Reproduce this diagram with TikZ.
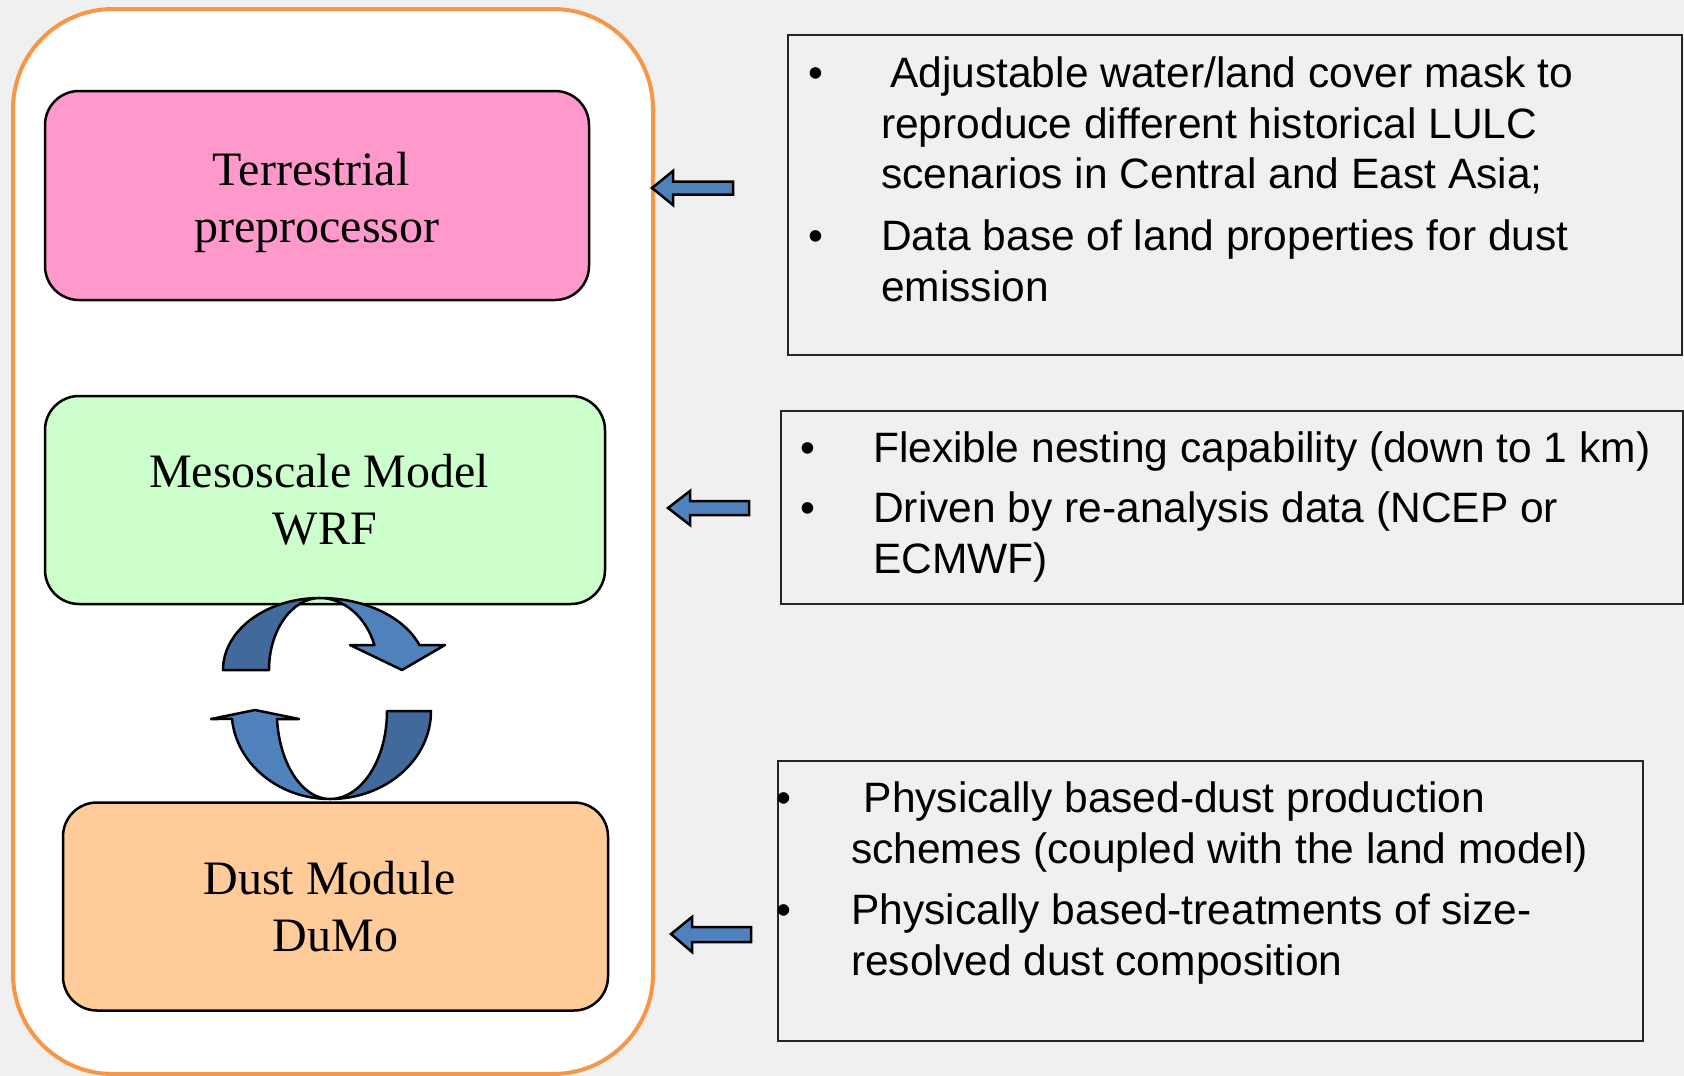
\documentclass[tikz,border=0pt]{standalone}
\usepackage{fontspec}
\newfontfamily\serifF{Liberation Serif}
\newfontfamily\sansF{Liberation Sans}
\definecolor{bggray}{HTML}{F0F0F0}
\definecolor{frameorange}{HTML}{F79646}
\definecolor{boxpink}{HTML}{FF99CC}
\definecolor{boxgreen}{HTML}{CCFFCC}
\definecolor{boxorange}{HTML}{FFCC99}
\definecolor{arrowblue}{HTML}{4F81BD}
\definecolor{arrowdark}{HTML}{41699B}
\begin{document}
\begin{tikzpicture}[x=1pt,y=-1pt,
  frame/.style={draw=frameorange, fill=white, line width=4pt, rounded corners=100pt, inner sep=0pt},
  modbox/.style={draw=black, line width=2.5pt, rounded corners=34pt, align=center, inner sep=0pt,
    font=\serifF\fontsize{48}{57}\selectfont},
  infobox/.style={draw=black!85, line width=2pt, inner sep=0pt},
  txt/.style={anchor=base west, inner sep=0pt, font=\sansF\fontsize{42.5}{50.5}\selectfont},
  bul/.style={anchor=base, inner sep=0pt, font=\sansF\fontsize{42.5}{50.5}\selectfont},
  blockarrow/.style={fill=arrowblue, draw=black, line width=2.5pt, line join=miter},
  curvlight/.style={fill=arrowblue, draw=black, line width=2.5pt, line join=round},
  curvdark/.style={fill=arrowdark, draw=black, line width=2.5pt, line join=round}]
\useasboundingbox (0,0) rectangle (1684,1076);
\fill[bggray] (0,0) rectangle (1684,1076);

% outer frame
\node[frame, minimum width=640pt, minimum height=1065pt] (frame) at (333,541.5) {};

% model boxes
\node[modbox, fill=boxpink, minimum width=544pt, minimum height=209pt] (terr) at (317,195.5) {};
\node[align=center, inner sep=0pt, font=\serifF\fontsize{48}{57}\selectfont] (terrtxt) at (317,202) {Terrestrial\hspace*{12pt}\\preprocessor};
\node[modbox, fill=boxgreen, minimum width=560pt, minimum height=208pt] (wrf) at (325,500) {Mesoscale Model\hspace*{12pt}\\WRF};
\node[modbox, fill=boxorange, minimum width=545pt, minimum height=208pt] (dumo) at (335.5,906.5) {Dust Module\hspace*{12pt}\\DuMo};

% curved arrows (top)
\draw[curvdark] (223,670) arc[start angle=180, end angle=270, x radius=97, y radius=72]
  arc[start angle=270, end angle=180, x radius=51, y radius=72] -- cycle;
\draw[curvlight] (320,598) arc[start angle=270, end angle=339.7, x radius=106, y radius=72]
  -- (445,645) -- (402,670) -- (350,645) -- (374.4,645)
  arc[start angle=339.7, end angle=270, x radius=58.6, y radius=72] -- cycle;
% curved arrows (bottom)
\draw[curvdark] (431,711) arc[start angle=0, end angle=90, x radius=101, y radius=88]
  arc[start angle=90, end angle=0, x radius=57, y radius=88] -- cycle;
\draw[curvlight] (330,799) arc[start angle=90, end angle=174.8, x radius=98.4, y radius=88]
  -- (211,719) -- (255,710) -- (299,719) -- (277,719)
  arc[start angle=174.8, end angle=90, x radius=53.2, y radius=88] -- cycle;

% info boxes
\node[infobox, minimum width=894pt, minimum height=320pt] (info1) at (1235,195) {};
\node[infobox, minimum width=902pt, minimum height=193pt] (info2) at (1232,507.5) {};
\node[infobox, minimum width=865pt, minimum height=280pt] (info3) at (1210.5,901) {};

% block arrows
\draw[blockarrow] (652,188) -- (673,171) -- (673,181.5) -- (733,181.5) -- (733,194.5) -- (673,194.5) -- (673,205) -- cycle;
\draw[blockarrow] (668,508) -- (690,491) -- (690,501) -- (749,501) -- (749,515) -- (690,515) -- (690,525) -- cycle;
\draw[blockarrow] (671,934) -- (692,917) -- (692,927) -- (751,927) -- (751,942) -- (692,942) -- (692,952) -- cycle;

% texts box 1
\node[bul] (b11) at (816,87) {•};
\node[txt] (t11) at (890,87) {Adjustable water/land cover mask to};
\node[txt] (t12) at (881,138) {reproduce different historical LULC};
\node[txt] (t13) at (881,188.5) {scenarios in Central and East Asia;};
\node[bul] (b12) at (816,250) {•};
\node[txt] (t14) at (881,250) {Data base of land properties for dust};
\node[txt] (t15) at (881,301) {emission};

% texts box 2
\node[bul] (b21) at (808,462.5) {•};
\node[txt] (t21) at (873,462.5) {Flexible nesting capability (down to 1 km)};
\node[bul] (b22) at (808,522.5) {•};
\node[txt] (t22) at (873,522.5) {Driven by re-analysis data (NCEP or};
\node[txt] (t23) at (873,573.5) {ECMWF)};

% texts box 3
\node[bul] (b31) at (784,812.5) {•};
\node[txt] (t31) at (863.5,812.5) {Physically based-dust production};
\node[txt] (t32) at (851,863) {schemes (coupled with the land model)};
\node[bul] (b32) at (784,924.5) {•};
\node[txt] (t33) at (851,924.5) {Physically based-treatments of size-};
\node[txt] (t34) at (851,975.5) {resolved dust composition};
\end{tikzpicture}
\end{document}
